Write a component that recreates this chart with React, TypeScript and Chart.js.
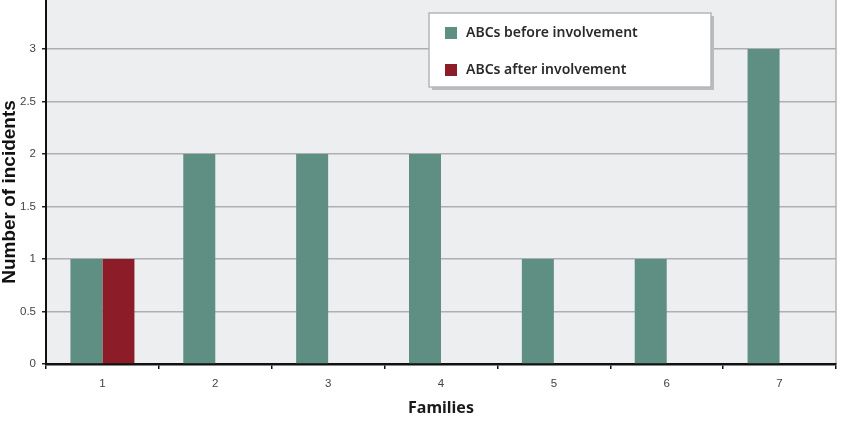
import React, { useEffect, useRef } from "react";
import { Chart, registerables } from "chart.js";

Chart.register(...registerables);

const families = ["1", "2", "3", "4", "5", "6", "7"];
const before = [1, 2, 2, 2, 1, 1, 3];
const after = [1, null, null, null, null, null, null];
const seriesLabels = ["ABCs before involvement", "ABCs after involvement"];
const seriesColors = ["#5f8e83", "#8c1d28"];
const yMin = 0;
const yMax = 3.5;
const yStep = 0.5;
const xTitle = "Families";
const yTitle = "Number of incidents";

const SHIFT = 20; // canvas is shifted up so the 3.5 line falls just above the page

const bgPlugin = {
  id: "bgPlugin",
  beforeDraw(chart: any) {
    const { ctx, chartArea } = chart;
    ctx.save();
    ctx.fillStyle = "#eceef0";
    ctx.fillRect(chartArea.left, chartArea.top, chartArea.right - chartArea.left, chartArea.bottom - chartArea.top);
    ctx.strokeStyle = "#b2b4b5";
    ctx.lineWidth = 1.5;
    ctx.beginPath();
    ctx.moveTo(chartArea.right, chartArea.top);
    ctx.lineTo(chartArea.right, chartArea.bottom);
    ctx.stroke();
    ctx.restore();
  },
  afterDraw(chart: any) {
    const { ctx } = chart;
    ctx.save();
    // y-axis title
    ctx.translate(10, 192 + SHIFT);
    ctx.rotate(-Math.PI / 2);
    ctx.font = "bold 19px 'Liberation Sans', Arial, sans-serif";
    ctx.fillStyle = "#111";
    ctx.textAlign = "center";
    ctx.textBaseline = "middle";
    ctx.fillText(yTitle, 0, 0);
    ctx.restore();

    // legend box
    const bx = 429, by = 13 + SHIFT, bw = 282, bh = 74;
    ctx.save();
    ctx.fillStyle = "#b9bbbc";
    ctx.fillRect(bx + 3, by + 3, bw, bh);
    ctx.fillStyle = "#ffffff";
    ctx.fillRect(bx, by, bw, bh);
    ctx.strokeStyle = "#b5b7b8";
    ctx.lineWidth = 1.5;
    ctx.strokeRect(bx, by, bw, bh);
    chart.data.datasets.forEach((ds: any, i: number) => {
      const cy = (i === 0 ? 33 : 70) + SHIFT;
      ctx.fillStyle = ds.backgroundColor;
      ctx.fillRect(445, cy - 6, 12, 12);
      ctx.fillStyle = "#2a2a2a";
      ctx.font = "600 14px 'Noto Sans', 'Open Sans', sans-serif";
      ctx.textAlign = "left";
      ctx.textBaseline = "middle";
      ctx.fillText(ds.label, 466, cy);
    });
    ctx.restore();
  },
};

export default function App() {
  const ref = useRef<HTMLCanvasElement | null>(null);
  useEffect(() => {
    if (!ref.current) return;
    const chart = new Chart(ref.current, {
      type: "bar",
      data: {
        labels: families,
        datasets: [
          { label: seriesLabels[0], data: before, backgroundColor: seriesColors[0], borderWidth: 0 },
          { label: seriesLabels[1], data: after as any, backgroundColor: seriesColors[1], borderWidth: 0 },
        ],
      },
      options: {
        responsive: false,
        animation: false,
        events: [],
        datasets: { bar: { barPercentage: 1, categoryPercentage: 0.567 } } as any,
        layout: { padding: { top: SHIFT - 3.5, left: 0, right: 5, bottom: 0 } },
        plugins: { legend: { display: false }, tooltip: { enabled: false }, title: { display: false } },
        scales: {
          x: {
            offset: true,
            grid: { display: true, drawOnChartArea: false, drawTicks: true, tickLength: 5, tickColor: "#111", lineWidth: 1.5, offset: true },
            border: { color: "#111", width: 2.5 },
            ticks: { color: "#444", font: { family: "'Liberation Sans Narrow', 'Liberation Sans', Arial", size: 11.5 }, padding: 8, maxRotation: 0 },
            title: { display: true, text: xTitle, color: "#1a1a1a", font: { family: "'Noto Sans', 'Open Sans', sans-serif", size: 16, weight: "bold" }, padding: { top: 0, bottom: 22.4 } },
            afterFit: (s: any) => { s.height = 76; },
          },
          y: {
            min: yMin,
            max: yMax,
            ticks: {
              stepSize: yStep,
              color: "#444",
              font: { family: "'Liberation Sans Narrow', 'Liberation Sans', Arial", size: 11.5 },
              padding: 6,
              callback: (v: any) => String(Number(v)),
            },
            grid: { color: "#adafb0", lineWidth: 1.5, tickLength: 4, tickColor: "#222" },
            border: { color: "#111", width: 2 },
            afterFit: (s: any) => { s.width = 46; },
          },
        },
      },
      plugins: [bgPlugin],
    });
    return () => chart.destroy();
  }, []);
  return (
    <div style={{ position: "absolute", left: 0, top: 0, width: 841, height: 440, overflow: "hidden", background: "#fff" }}>
      <canvas ref={ref} width={841} height={440 + SHIFT} style={{ position: "absolute", left: 0, top: -SHIFT, width: 841, height: 440 + SHIFT }} />
    </div>
  );
}
